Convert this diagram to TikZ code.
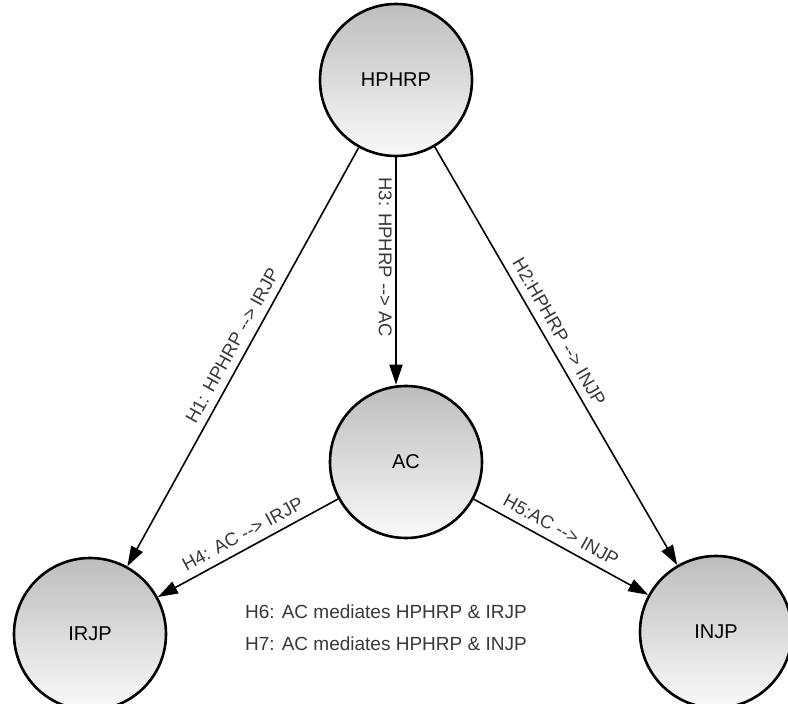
\documentclass[tikz,border=0pt]{standalone}
\usepackage{fontspec}
\setmainfont{Liberation Sans}
\usetikzlibrary{arrows.meta}
\begin{document}
\begin{tikzpicture}[x=1pt,y=-1pt,
  construct/.style={circle, draw=black, line width=2.6pt, minimum size=152pt,
    inner sep=0pt, top color=black!26, bottom color=black!2,
    text=black, font=\fontsize{20}{24}\selectfont},
  link/.style={line width=1.6pt, draw=black,
    -{Triangle[length=20pt,width=13pt]}},
  hyp/.style={font=\fontsize{18.5}{22}\selectfont, text=black!78, inner sep=3.5pt},
  note/.style={font=\fontsize{19}{32}\selectfont, text=black!78, align=left, inner sep=0pt}]
  \useasboundingbox (0,0) rectangle (788,704);
  \clip (0,0) rectangle (788,704);

  % constructs
  \node[construct] (hp)    at (396,80)  {HPHRP};
  \node[construct] (ac)    at (406,462) {AC};
  \node[construct] (irjp)  at (90,634)  {IRJP};
  \node[construct] (injp)  at (716,632) {INJP};

  % hypothesised paths
  \draw[link] (hp) -- node[hyp, sloped, above=4pt, pos=0.49] {H1: HPHRP -{}-> IRJP} (irjp);
  \draw[link] (hp) -- node[hyp, sloped, above=4pt, pos=0.46] {H2:HPHRP -{}-> INJP} (injp);
  \draw[link] (hp.south) -- node[hyp, rotate=-90, anchor=north, pos=0.44] {H3: HPHRP -{}-> AC} (hp.south |- ac.north);
  \draw[link] (ac) -- node[hyp, sloped, above=4pt, pos=0.49] {H4: AC -{}-> IRJP} (irjp);
  \draw[link] (ac) -- node[hyp, sloped, above=4pt, pos=0.46] {H5:AC -{}-> INJP} (injp);

  % mediation hypotheses
  \node[note, anchor=west] (med) at (245,628) {H6: AC mediates HPHRP \& IRJP\\H7: AC mediates HPHRP \& INJP};
\end{tikzpicture}
\end{document}
